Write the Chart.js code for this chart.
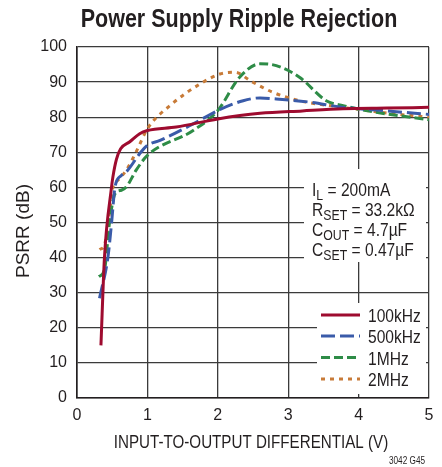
<!DOCTYPE html>
<html>
<head>
<meta charset="utf-8">
<script src="https://cdn.jsdelivr.net/npm/chart.js@4/dist/chart.umd.min.js"></script>
<style>
  html, body { margin: 0; padding: 0; background: #fff; }
  #psrr { display: block; }
</style>
</head>
<body>
<canvas id="psrr" width="442" height="467"></canvas>
<script>
// PSRR vs input-to-output differential, one curve per ripple frequency
const seriesNames = ["100kHz", "500kHz", "1MHz", "2MHz"];

const vin100k = [0.34, 0.39, 0.49, 0.51, 0.56, 0.62, 0.75, 0.89, 1.0, 1.41, 2.0, 2.6, 3.2, 3.78, 4.4, 5.0];
const psrr100k = [15, 40, 60, 63, 68, 71, 73, 75.3, 76.2, 77.2, 79.5, 81.1, 81.8, 82.4, 82.6, 82.8];

const vin500k = [0.32, 0.44, 0.49, 0.54, 0.63, 0.72, 0.89, 1.0, 1.18, 1.65, 2.0, 2.36, 2.6, 2.83, 3.3, 3.78, 4.4, 5.0];
const psrr500k = [28.4, 40.2, 49.7, 60.1, 63.4, 64.9, 69.6, 72, 73.4, 78.1, 81.9, 84.7, 85.5, 85.2, 84.3, 82.8, 81.8, 80.8];

const vin1M = [0.31, 0.39, 0.46, 0.54, 0.63, 0.70, 0.84, 1.0, 1.65, 2.0, 2.31, 2.6, 2.83, 3.16, 3.54, 3.78, 4.25, 5.0];
const psrr1M = [34.6, 36.5, 49.7, 58.2, 59.2, 60.1, 64.9, 69.1, 76.2, 81.9, 91.4, 95.2, 94.7, 91.4, 84.7, 83.3, 81.4, 79.3];

const vin2M = [0.32, 0.39, 0.46, 0.51, 0.58, 0.70, 0.84, 1.0, 1.32, 1.75, 2.03, 2.25, 2.46, 2.78, 3.16, 3.78, 4.49, 5.0];
const psrr2M = [42.3, 43.6, 52.6, 60.1, 62, 64.9, 70.1, 76.7, 83.3, 89.5, 92.3, 92.8, 90.4, 87.1, 84.7, 82.8, 81.0, 80.0];

const xTicks = [0, 1, 2, 3, 4, 5];
const yTicks = [0, 10, 20, 30, 40, 50, 60, 70, 80, 90, 100];

const noteLines = [
  ["I", "L", " = 200mA"],
  ["R", "SET", " = 33.2kΩ"],
  ["C", "OUT", " = 4.7µF"],
  ["C", "SET", " = 0.47µF"]
];

const FONT = "'Liberation Sans', Arial, sans-serif";
const INK = "#231f20";
const NARROW = 0.82;

function toPoints(xs, ys) {
  return xs.map((x, i) => ({ x: x, y: ys[i] }));
}

// draws text squeezed horizontally, returns the drawn width
function narrowText(ctx, text, x, y, font, squeeze) {
  ctx.font = font;
  const w = ctx.measureText(text).width * squeeze;
  ctx.save();
  ctx.translate(x, y);
  ctx.scale(squeeze, 1);
  ctx.fillText(text, 0, 0);
  ctx.restore();
  return w;
}

const styles = [
  { color: "#9e0b2f", dash: [] },
  { color: "#3a5ba9", dash: [14, 5] },
  { color: "#2e8c47", dash: [9, 4] },
  { color: "#c87b38", dash: [4, 5] }
];

const seriesData = [
  toPoints(vin100k, psrr100k),
  toPoints(vin500k, psrr500k),
  toPoints(vin1M, psrr1M),
  toPoints(vin2M, psrr2M)
];

// Title, axis titles, the conditions box and the legend box
const decorations = {
  id: "decorations",
  afterDatasetsDraw(chart) {
    const ctx = chart.ctx;
    const area = chart.chartArea;
    ctx.save();
    ctx.textBaseline = "alphabetic";
    ctx.textAlign = "left";

    // conditions box
    ctx.fillStyle = "#fff";
    ctx.fillRect(304, 169, area.right - 304 - 3, 93);
    ctx.fillStyle = INK;
    const baselines = [196, 216, 236, 256];
    noteLines.forEach((parts, i) => {
      let x = 312;
      const y = baselines[i];
      x += narrowText(ctx, parts[0], x, y, "19px " + FONT, NARROW);
      x += narrowText(ctx, parts[1], x, y + 4, "15px " + FONT, NARROW);
      narrowText(ctx, parts[2], x, y, "19px " + FONT, NARROW);
    });

    // legend box
    ctx.fillStyle = "#fff";
    ctx.fillRect(317, 303, area.right - 317 - 3, 91);
    const legendY = [315, 336, 357.5, 379];
    chart.data.datasets.forEach((ds, i) => {
      ctx.strokeStyle = ds.borderColor;
      ctx.lineWidth = 3;
      ctx.setLineDash(ds.borderDash || []);
      ctx.beginPath();
      ctx.moveTo(321, legendY[i]);
      ctx.lineTo(360, legendY[i]);
      ctx.stroke();
      ctx.setLineDash([]);
      ctx.fillStyle = INK;
      narrowText(ctx, ds.label, 368, legendY[i] + 7, "19px " + FONT, NARROW);
    });

    // chart title
    ctx.fillStyle = INK;
    const title = "Power Supply Ripple Rejection";
    ctx.font = "bold 25px " + FONT;
    const tw = ctx.measureText(title).width * 0.86;
    narrowText(ctx, title, 239 - tw / 2, 27, "bold 25px " + FONT, 0.86);

    // x axis title
    const xTitle = "INPUT-TO-OUTPUT DIFFERENTIAL (V)";
    ctx.font = "18.5px " + FONT;
    const xw = ctx.measureText(xTitle).width * NARROW;
    narrowText(ctx, xTitle, 251 - xw / 2, 448, "18.5px " + FONT, NARROW);

    // y axis title
    ctx.save();
    ctx.translate(29, 231);
    ctx.rotate(-Math.PI / 2);
    ctx.textAlign = "center";
    ctx.font = "19px " + FONT;
    ctx.fillText("PSRR (dB)", 0, 0);
    ctx.restore();

    // figure code
    ctx.font = "10px " + FONT;
    const cw = ctx.measureText("3042 G45").width * NARROW;
    narrowText(ctx, "3042 G45", 425 - cw, 464, "10px " + FONT, NARROW);

    ctx.restore();
  }
};

const chart = new Chart(document.getElementById("psrr"), {
  type: "line",
  data: {
    datasets: seriesNames.map((name, i) => ({
      label: name,
      data: seriesData[i],
      borderColor: styles[i].color,
      borderDash: styles[i].dash,
      borderWidth: 3,
      pointRadius: 0,
      fill: false,
      cubicInterpolationMode: "monotone"
    }))
  },
  options: {
    responsive: false,
    animation: false,
    layout: { padding: { top: 47, right: 13, left: 0, bottom: 0 } },
    plugins: {
      legend: { display: false },
      title: { display: false },
      tooltip: { enabled: false }
    },
    scales: {
      x: {
        type: "linear",
        min: 0,
        max: 5,
        afterFit(scale) { scale.height = 69; },
        afterBuildTicks(scale) { scale.ticks = xTicks.map(v => ({ value: v })); },
        grid: { color: "#3b3b3b", lineWidth: 1.3, drawTicks: false },
        border: { color: INK, width: 1.6 },
        ticks: {
          padding: 8,
          color: INK,
          font: { family: FONT, size: 16 }
        }
      },
      y: {
        type: "linear",
        min: 0,
        max: 100,
        afterFit(scale) { scale.width = 77; },
        afterBuildTicks(scale) { scale.ticks = yTicks.map(v => ({ value: v })); },
        grid: { color: "#3b3b3b", lineWidth: 1.3, drawTicks: false },
        border: { color: INK, width: 1.6 },
        ticks: {
          padding: 10,
          color: INK,
          font: { family: FONT, size: 16 }
        }
      }
    }
  },
  plugins: [decorations]
});
</script>
</body>
</html>
